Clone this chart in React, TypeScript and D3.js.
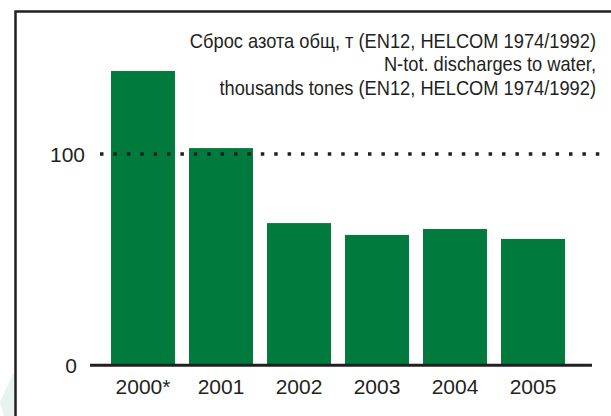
import React, { useEffect, useRef } from 'react';
import * as d3 from 'd3';

const years = ['2000*', '2001', '2002', '2003', '2004', '2005'];
const discharges = [139.3, 102.8, 67.3, 61.7, 64.5, 59.8];
const yTicks = [0, 100];
const titleLines = [
  'Сброс азота общ, т (EN12, HELCOM 1974/1992)',
  'N-tot. discharges to water,',
  'thousands tones (EN12, HELCOM 1974/1992)'
];

export default function App() {
  const svgRef = useRef<SVGSVGElement>(null);

  useEffect(() => {
    const width = 611;
    const height = 416;
    const ink = '#231f20';
    const green = '#007a3d';
    const font = '"Liberation Sans", Arial, sans-serif';

    const svg = d3.select(svgRef.current);
    svg.selectAll('*').remove();
    svg.attr('width', width).attr('height', height);

    // faint watermark corner
    svg.append('path')
      .attr('d', 'M0,402 L14,372 L14,416 L4,416 Z')
      .attr('fill', '#e6f3ef');

    // frame
    svg.append('path')
      .attr('d', `M15.5,${height} L15.5,11.5 L${width},11.5`)
      .attr('fill', 'none')
      .attr('stroke', ink)
      .attr('stroke-width', 2.5);

    const x = d3.scaleBand()
      .domain(years)
      .range([104, 572])
      .paddingInner(0.18)
      .paddingOuter(0.09);

    const y = d3.scaleLinear()
      .domain([0, 100])
      .range([365.3, 154]);

    // bars
    svg.append('g')
      .selectAll('rect')
      .data(discharges)
      .join('rect')
      .attr('x', (_, i) => x(years[i]) as number)
      .attr('width', x.bandwidth())
      .attr('y', d => y(d))
      .attr('height', d => y(0) - y(d))
      .attr('fill', green);

    // dotted reference line at 100, drawn over the bars
    svg.append('line')
      .attr('x1', 100)
      .attr('x2', 606)
      .attr('y1', y(100))
      .attr('y2', y(100))
      .attr('stroke', ink)
      .attr('stroke-width', 3.5)
      .attr('stroke-dasharray', '3.5,9.9');

    // baseline
    svg.append('line')
      .attr('x1', 90)
      .attr('x2', 592)
      .attr('y1', y(0))
      .attr('y2', y(0))
      .attr('stroke', ink)
      .attr('stroke-width', 3);

    // y tick labels
    svg.append('g')
      .selectAll('text')
      .data(yTicks)
      .join('text')
      .attr('x', d => (d === 0 ? 77 : 85))
      .attr('y', d => y(d) + 7.5)
      .attr('text-anchor', 'end')
      .attr('font-family', font)
      .attr('font-size', 21)
      .attr('fill', ink)
      .text(d => d);

    // x labels
    svg.append('g')
      .selectAll('text')
      .data(years)
      .join('text')
      .attr('x', d => (x(d) as number) + x.bandwidth() / 2)
      .attr('y', 394)
      .attr('text-anchor', 'middle')
      .attr('font-family', font)
      .attr('font-size', 21)
      .attr('fill', ink)
      .text(d => d);

    // title, condensed to match the narrow face
    svg.append('g')
      .attr('transform', 'translate(596,0) scale(0.87,1)')
      .selectAll('text')
      .data(titleLines)
      .join('text')
      .attr('x', 0)
      .attr('y', (_, i) => 48 + i * 23.5)
      .attr('text-anchor', 'end')
      .attr('font-family', font)
      .attr('font-size', 21)
      .attr('fill', ink)
      .text(d => d);
  }, []);

  return (
    <div style={{ position: 'absolute', left: 0, top: 0 }}>
      <svg ref={svgRef} style={{ display: 'block' }}></svg>
    </div>
  );
}
